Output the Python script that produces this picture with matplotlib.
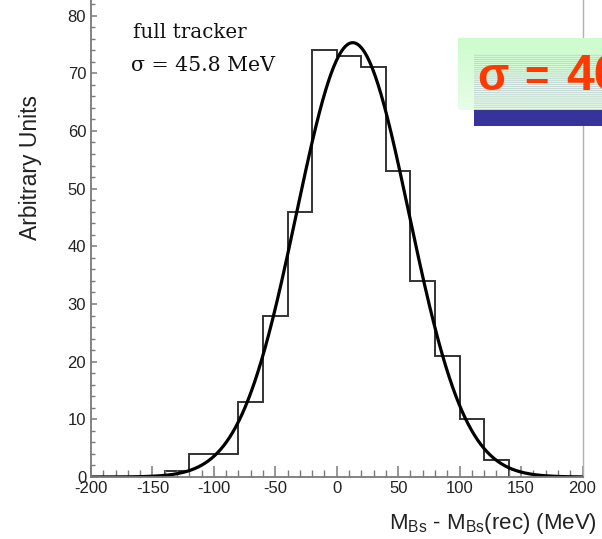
import numpy as np
import matplotlib
matplotlib.use("Agg")
import matplotlib.pyplot as plt
from matplotlib.patches import Rectangle
from matplotlib.ticker import MultipleLocator

# Histogram of mass residuals (20 MeV bins)
bin_edges = [-140, -120, -100, -80, -60, -40, -20, 0, 20, 40, 60, 80, 100, 120, 140]
counts = [1, 4, 4, 13, 28, 46, 74, 73, 71, 53, 34, 21, 10, 3]

# Gaussian fit parameters
fit_amplitude = 75.3
fit_mean = 13.0
fit_sigma = 45.8

x_ticks = [-200, -150, -100, -50, 0, 50, 100, 150, 200]
y_ticks = [0, 10, 20, 30, 40, 50, 60, 70, 80]

plt.rcParams["axes.unicode_minus"] = False
plt.rcParams["font.family"] = ["Liberation Sans", "DejaVu Sans"]
plt.rcParams["hatch.linewidth"] = 0.5

W, H = 602, 539
fig = plt.figure(figsize=(W / 100, H / 100), dpi=100)


def fx(px):
    return px / W


def fy(py):
    return 1 - py / H


ax = fig.add_axes([fx(91), fy(477), (582.5 - 91) / W, 477 / H])
ax.set_xlim(-200, 200)
ax.set_ylim(0, 82.7)

axis_grey = "#7a7a7a"
for side in ("left", "bottom"):
    ax.spines[side].set_color(axis_grey)
    ax.spines[side].set_linewidth(1.3)
ax.spines["right"].set_color("#b0b0b0")
ax.spines["right"].set_linewidth(1.0)
ax.spines["top"].set_visible(False)

ax.stairs(counts, bin_edges, baseline=0, fill=False, color="#333333", linewidth=1.4)

xs = np.linspace(-200, 200, 801)
ys = fit_amplitude * np.exp(-0.5 * ((xs - fit_mean) / fit_sigma) ** 2)
ax.plot(xs, ys, color="black", linewidth=2.3)

ax.set_xticks(x_ticks)
ax.set_yticks(y_ticks)
ax.xaxis.set_minor_locator(MultipleLocator(10))
ax.yaxis.set_minor_locator(MultipleLocator(2))
ax.tick_params(axis="x", which="major", direction="in", length=7.7, width=1.1,
               color=axis_grey, labelsize=12, pad=3, labelcolor="#222222")
ax.tick_params(axis="x", which="minor", direction="in", length=4.8, width=1.0,
               color=axis_grey)
ax.tick_params(axis="y", which="major", direction="in", length=4.3, width=1.1,
               color=axis_grey, labelsize=12, pad=3.5, labelcolor="#222222")
ax.tick_params(axis="y", which="minor", direction="in", length=3.0, width=1.0,
               color=axis_grey)

fig.text(fx(31), fy(168), "Arbitrary Units", rotation=90, ha="center", va="center",
         fontsize=16.5, color="#222222")
fig.text(fx(597), fy(529), r"M$_{\mathregular{Bs}}$ - M$_{\mathregular{Bs}}$(rec) (MeV)",
         ha="right", va="baseline", fontsize=16, color="#222222")

ax.text(fx(133), fy(38), "full tracker", transform=fig.transFigure, ha="left",
        va="baseline", fontsize=14.3, family=["DejaVu Serif"], color="#111111")
ax.text(fx(131), fy(71), "σ = 45.8 MeV", transform=fig.transFigure, ha="left",
        va="baseline", fontsize=14.8, family=["DejaVu Serif"], color="#111111")

# Highlight panel with the resolution value
panel = fig.add_axes([fx(458), fy(110), (W - 458) / W, (110 - 38) / H])
panel.set_axis_off()
grad = np.linspace(0, 1, 64)[:, None]
top = np.array([0.80, 0.99, 0.80])
bottom = np.array([0.91, 0.99, 0.91])
img = top[None, None, :] * (1 - grad[:, :, None]) + bottom[None, None, :] * grad[:, :, None]
panel.imshow(img, aspect="auto", extent=[0, 1, 0, 1])
panel.set_xlim(0, 1)
panel.set_ylim(0, 1)

fig.patches.append(Rectangle((fx(474), fy(110)), (W - 474) / W, (110 - 54) / H,
                             transform=fig.transFigure, facecolor="none",
                             edgecolor="#b9c9d2", linewidth=0, hatch="--------",
                             zorder=5))
fig.patches.append(Rectangle((fx(474), fy(126)), (W - 474) / W, 16 / H,
                             transform=fig.transFigure, facecolor="#36349a",
                             edgecolor="none", zorder=5))

red = "#ff3a00"
big = dict(ha="left", va="baseline", fontweight="bold", color=red,
           family=["Liberation Sans", "DejaVu Sans"], zorder=6)
fig.text(fx(477), fy(90), "σ", fontsize=33, **big)
fig.text(fx(524), fy(90), "=", fontsize=30, **big)
fig.text(fx(566), fy(90), "46", fontsize=36, **big)

fig.savefig("out.png", dpi=100)
